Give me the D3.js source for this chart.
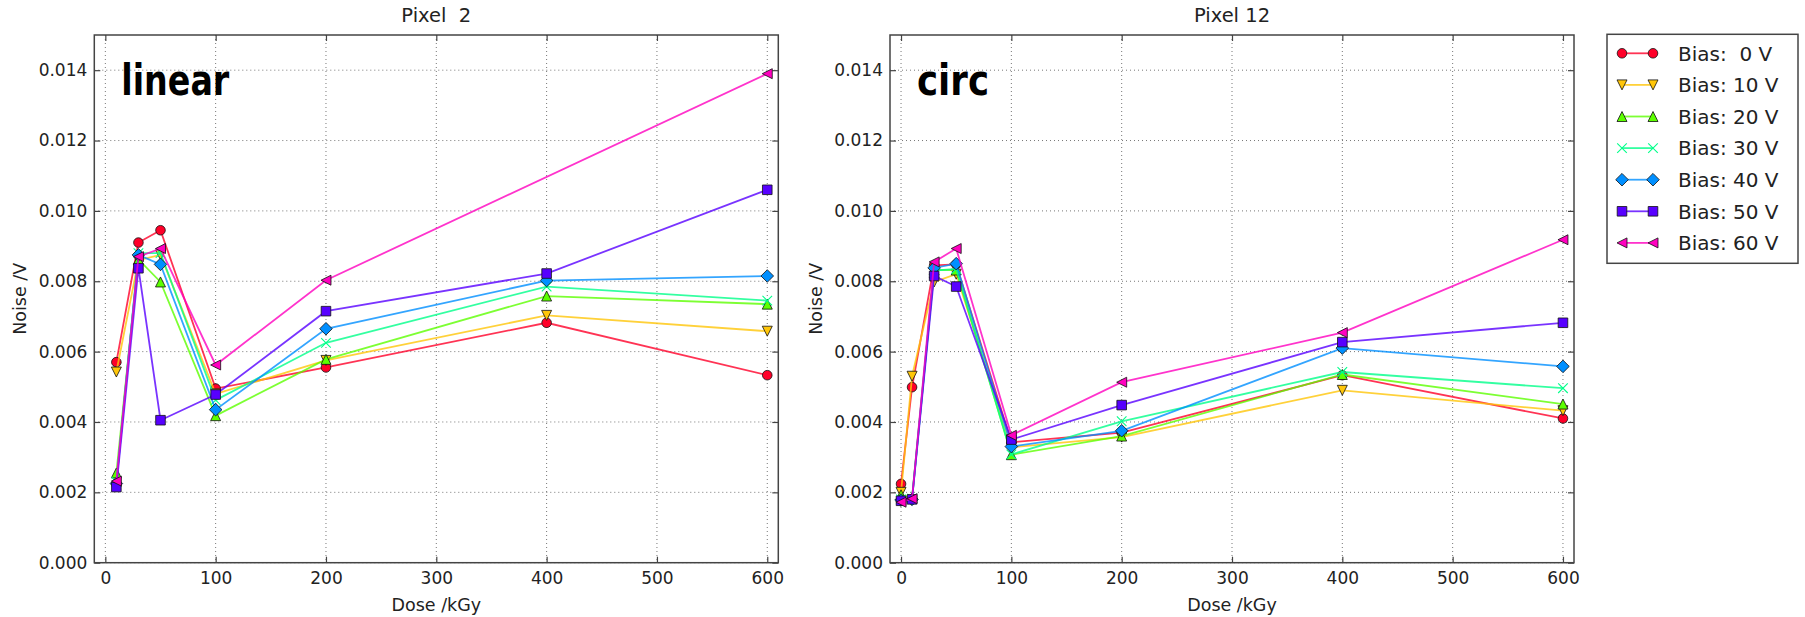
<!DOCTYPE html>
<html>
<head>
<meta charset="utf-8">
<script src="https://cdn.jsdelivr.net/npm/d3@7"></script>
<style>
  html, body { margin: 0; padding: 0; background: #fff; }
  svg { display: block; }
  text { font-family: "DejaVu Sans", sans-serif; white-space: pre; }
</style>
</head>
<body>
<svg id="chart" width="1805" height="617"></svg>
<script>
// ---------------- data ----------------
const dosesPixel2 = [10, 30, 50, 100, 200, 400, 600];
const dosesPixel12 = [0, 10, 30, 50, 100, 200, 400, 600];
const biasLabels = ["Bias:  0 V", "Bias: 10 V", "Bias: 20 V", "Bias: 30 V", "Bias: 40 V", "Bias: 50 V", "Bias: 60 V"];
const xTicks = [0, 100, 200, 300, 400, 500, 600];
const yTicks = [0, 0.002, 0.004, 0.006, 0.008, 0.010, 0.012, 0.014];
const panelTitles = ["Pixel  2", "Pixel 12"];
const panelTags = ["linear", "circ"];

// noise [V] per bias (rows) vs dose (columns)
const noisePixel2 = [
  [0.00570, 0.00910, 0.00945, 0.00495, 0.00555, 0.00682, 0.00533],
  [0.00542, 0.00860, 0.00875, 0.00480, 0.00575, 0.00703, 0.00658],
  [0.00255, 0.00862, 0.00798, 0.00418, 0.00578, 0.00758, 0.00735],
  [0.00230, 0.00880, 0.00880, 0.00462, 0.00625, 0.00785, 0.00745],
  [0.00225, 0.00875, 0.00848, 0.00435, 0.00665, 0.00802, 0.00815],
  [0.00215, 0.00837, 0.00405, 0.00478, 0.00715, 0.00822, 0.01060],
  [0.00232, 0.00870, 0.00893, 0.00562, 0.00803, null,    0.01390]
];
const noisePixel12 = [
  [0.00224, 0.00499, 0.00845, 0.00848, 0.00342, 0.00370, 0.00533, 0.00410],
  [0.00200, 0.00530, 0.00798, 0.00820, 0.00328, 0.00357, 0.00490, 0.00432],
  [0.00193, 0.00185, 0.00832, 0.00832, 0.00307, 0.00360, 0.00535, 0.00451],
  [0.00180, 0.00182, 0.00830, 0.00835, 0.00308, 0.00402, 0.00542, 0.00496],
  [0.00178, 0.00180, 0.00838, 0.00850, 0.00330, 0.00375, 0.00610, 0.00558],
  [0.00176, 0.00180, 0.00815, 0.00785, 0.00350, 0.00448, 0.00627, 0.00682],
  [0.00172, 0.00182, 0.00855, 0.00893, 0.00362, 0.00513, 0.00654, 0.00918]
];

// ---------------- styles ----------------
const colors = ["#ff0029", "#ffc609", "#5cff00", "#00ff8a", "#008fff", "#5700ff", "#ff00bf"];
const markers = ["circle", "tdown", "tup", "x", "diamond", "square", "tleft"];
const tagWidths = [108, 72];

const svg = d3.select("#chart");
svg.append("rect").attr("width", 1805).attr("height", 617).attr("fill", "#fff");

const plotW = 684, plotTop = 35, plotBottom = 562.7;
const panels = [
  { x0: 94.3, doses: dosesPixel2, noise: noisePixel2, title: panelTitles[0], tag: panelTags[0], tagW: tagWidths[0] },
  { x0: 890, doses: dosesPixel12, noise: noisePixel12, title: panelTitles[1], tag: panelTags[1], tagW: tagWidths[1] }
];

function markerPath(type) {
  const p = d3.path();
  if (type === "circle") { p.arc(0, 0, 4.8, 0, 2 * Math.PI); p.closePath(); }
  else if (type === "square") { p.rect(-4.8, -4.8, 9.6, 9.6); }
  else if (type === "diamond") { p.moveTo(0, -6.3); p.lineTo(6.3, 0); p.lineTo(0, 6.3); p.lineTo(-6.3, 0); p.closePath(); }
  else if (type === "tdown") { p.moveTo(0, 5); p.lineTo(-5, -5); p.lineTo(5, -5); p.closePath(); }
  else if (type === "tup") { p.moveTo(0, -5); p.lineTo(-5, 5); p.lineTo(5, 5); p.closePath(); }
  else if (type === "tleft") { p.moveTo(-5, 0); p.lineTo(5, -5); p.lineTo(5, 5); p.closePath(); }
  else if (type === "x") { p.moveTo(-4.8, -4.8); p.lineTo(4.8, 4.8); p.moveTo(-4.8, 4.8); p.lineTo(4.8, -4.8); }
  return p.toString();
}

function drawMarker(g, type, color, cx, cy) {
  const m = g.append("path").attr("d", markerPath(type)).attr("transform", `translate(${cx},${cy})`);
  if (type === "x") m.attr("fill", "none").attr("stroke", color).attr("stroke-width", 1.1);
  else m.attr("fill", color).attr("stroke", "#111").attr("stroke-width", 0.8);
}

panels.forEach(P => {
  const x = d3.scaleLinear().domain([-10, 610]).range([P.x0, P.x0 + plotW]);
  const y = d3.scaleLinear().domain([0, 0.015]).range([plotBottom, plotTop]);
  const g = svg.append("g");

  // grid
  g.append("g").selectAll("line").data(xTicks).join("line")
    .attr("x1", d => x(d)).attr("x2", d => x(d)).attr("y1", plotTop).attr("y2", plotBottom)
    .attr("stroke", "#777").attr("stroke-width", 1).attr("stroke-dasharray", "1,3");
  g.append("g").selectAll("line").data(yTicks).join("line")
    .attr("y1", d => y(d)).attr("y2", d => y(d)).attr("x1", P.x0).attr("x2", P.x0 + plotW)
    .attr("stroke", "#777").attr("stroke-width", 1).attr("stroke-dasharray", "1,3");

  // axes (inward ticks on all four sides)
  const fmt = d3.format(".3f");
  const axB = g.append("g").attr("transform", `translate(0,${plotBottom})`)
    .call(d3.axisBottom(x).tickValues(xTicks).tickSize(-6).tickPadding(9.5));
  const axL = g.append("g").attr("transform", `translate(${P.x0},0)`)
    .call(d3.axisLeft(y).tickValues(yTicks).tickFormat(fmt).tickSize(-6).tickPadding(7));
  const axT = g.append("g").attr("transform", `translate(0,${plotTop})`)
    .call(d3.axisTop(x).tickValues(xTicks).tickSize(-6).tickFormat(""));
  const axR = g.append("g").attr("transform", `translate(${P.x0 + plotW},0)`)
    .call(d3.axisRight(y).tickValues(yTicks).tickSize(-6).tickFormat(""));
  [axB, axL, axT, axR].forEach(a => {
    a.select(".domain").remove();
    a.selectAll(".tick line").attr("stroke", "#444").attr("stroke-width", 1.2);
    a.selectAll(".tick text").attr("font-family", "DejaVu Sans").attr("font-size", 17).attr("fill", "#222");
  });

  // series
  const line = d3.line().x(d => x(d[0])).y(d => y(d[1]));
  P.noise.forEach((row, i) => {
    const pts = P.doses.map((d, j) => [d, row[j]]).filter(d => d[1] !== null);
    const sg = g.append("g");
    sg.append("path").attr("d", line(pts)).attr("fill", "none")
      .attr("stroke", colors[i]).attr("stroke-opacity", 0.8).attr("stroke-width", 1.8);
    pts.forEach(p => drawMarker(sg, markers[i], colors[i], x(p[0]), y(p[1])));
  });

  // frame
  g.append("rect").attr("x", P.x0).attr("y", plotTop).attr("width", plotW).attr("height", plotBottom - plotTop)
    .attr("fill", "none").attr("stroke", "#444").attr("stroke-width", 1.5);

  // title
  g.append("text").attr("x", P.x0 + plotW / 2).attr("y", 22).attr("text-anchor", "middle")
    .attr("font-size", 19.5).attr("fill", "#222").text(P.title);
  // axis labels
  g.append("text").attr("x", P.x0 + plotW / 2).attr("y", 611).attr("text-anchor", "middle")
    .attr("font-size", 17.5).attr("fill", "#222").text("Dose /kGy");
  g.append("text").attr("transform", `translate(${P.x0 - 68},${(plotTop + plotBottom) / 2}) rotate(-90)`)
    .attr("text-anchor", "middle").attr("font-size", 17.5).attr("fill", "#222").text("Noise /V");
  // tag
  g.append("text").attr("x", P.x0 + 27).attr("y", 95).attr("font-family", "Liberation Sans, Arial, sans-serif")
    .attr("font-weight", "bold").attr("font-size", 43).attr("fill", "#000")
    .attr("textLength", P.tagW).attr("lengthAdjust", "spacingAndGlyphs").text(P.tag);
});

// legend
const lg = svg.append("g");
lg.append("rect").attr("x", 1607).attr("y", 34.3).attr("width", 191).attr("height", 229)
  .attr("fill", "#fff").attr("stroke", "#444").attr("stroke-width", 1.5);
biasLabels.forEach((lab, i) => {
  const cy = 53.3 + i * 31.6;
  lg.append("line").attr("x1", 1622).attr("x2", 1653).attr("y1", cy).attr("y2", cy)
    .attr("stroke", colors[i]).attr("stroke-opacity", 0.8).attr("stroke-width", 1.8);
  drawMarker(lg, markers[i], colors[i], 1622, cy);
  drawMarker(lg, markers[i], colors[i], 1653, cy);
  lg.append("text").attr("x", 1678).attr("y", cy).attr("dy", "0.36em")
    .attr("font-size", 20).attr("fill", "#222").text(lab);
});
</script>
</body>
</html>
